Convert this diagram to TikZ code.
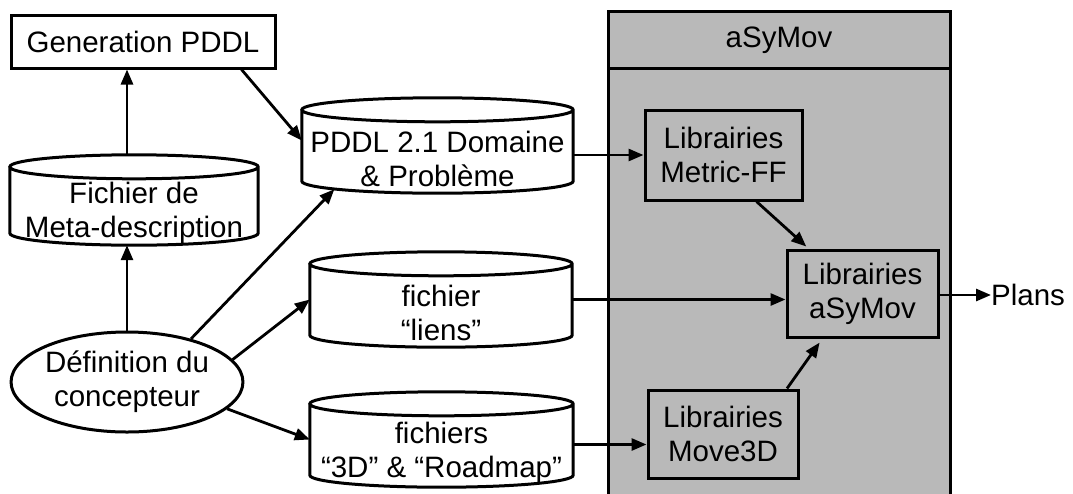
\documentclass[tikz,border=0pt]{standalone}
\usepackage{fontspec}
\setmainfont{Liberation Sans}
\usetikzlibrary{arrows.meta,shapes.geometric,calc}
\definecolor{asygray}{RGB}{185,185,185}
\tikzset{
  x=1pt, y=1pt,
  every node/.style={font=\fontsize{29.5}{34}\selectfont, align=center, inner sep=0pt},
  boxline/.style={line width=3pt},
  rectbox/.style={draw, boxline, rectangle},
  cylbox/.style={rectangle, draw=none},
  cyltxt/.style={yshift=-13pt},
  ellbox/.style={draw, boxline, ellipse},
  conn/.style={line width=2.8pt, -{Triangle[length=15pt,width=12pt]}},
}
\newcommand\drawcylinder[1]{%
  \draw[boxline] let \p1=(#1.north west), \p2=(#1.south east), \n1={(\x2-\x1)/2} in
    (\x1,\y1-12pt) -- (\x1,\y2+12pt)
    arc[start angle=180, end angle=360, x radius=\n1, y radius=12pt]
    -- (\x2,\y1-12pt)
    arc[start angle=0, end angle=180, x radius=\n1, y radius=12pt]
    arc[start angle=180, end angle=360, x radius=\n1, y radius=12pt];}
\begin{document}
\begin{tikzpicture}
\clip (0,0) rectangle (1073,-493);
\fill[white] (0,0) rectangle (1073,-493);
% container
\draw[boxline, fill=asygray] (608,-11) rectangle (950,-510);
\draw[boxline] (608,-68) -- (950,-68);
\node (title) at (779,-40) {aSyMov};
% left nodes
\node[rectbox, minimum width=264pt, minimum height=53pt] (gen) at (143,-41.5) {Generation PDDL};
\node[cylbox, minimum width=248pt, minimum height=90pt, label={[cyltxt]center:Fichier de\\Meta-description}] (meta) at (134,-200) {};
\node[ellbox, minimum width=220pt, minimum height=100pt] (def) at (127,-382) {Définition du\\concepteur};
\node[cylbox, minimum width=271pt, minimum height=95pt, label={[cyltxt]center:PDDL 2.1 Domaine\\\& Problème}] (pddl) at (437.5,-145.5) {};
\node[cylbox, minimum width=262pt, minimum height=95pt, label={[cyltxt]center:fichier\\“liens”}] (liens) at (441,-299.5) {};
\node[cylbox, minimum width=263pt, minimum height=95pt, label={[cyltxt]center:fichiers\\“3D” \& “Roadmap”}] (threed) at (441.5,-439.5) {};
\drawcylinder{meta}
\drawcylinder{pddl}
\drawcylinder{liens}
\drawcylinder{threed}
% inner boxes
\node[rectbox, minimum width=157pt, minimum height=90pt] (metric) at (723.5,-155) {Librairies\\Metric-FF};
\node[rectbox, minimum width=151pt, minimum height=87pt] (asy) at (862.5,-293.5) {Librairies\\aSyMov};
\node[rectbox, minimum width=150pt, minimum height=88pt] (move) at (723,-434) {Librairies\\Move3D};
\node[anchor=west] (plans) at (991,-295) {Plans};
% connectors
\draw[conn] (meta.north -| def.north) -- (gen.south -| def.north);
\draw[conn] (def.north) -- (meta.south -| def.north);
\draw[conn] ([xshift=-35pt]gen.south east) -- ([yshift=5pt]pddl.west);
\draw[conn] (def.34) -- ($(pddl.south west)!0.12!(pddl.south east)+(0,4)$);
\draw[conn] (def.12) -- (liens.west);
\draw[conn] (def.-15) -- (threed.west);
\draw[conn] (metric.west -| pddl.east) -- (metric.west);
\draw[conn] (liens.east) -- (liens.east -| asy.west);
\draw[conn] ([yshift=-5pt]threed.east) -- ([yshift=-5pt]threed.east -| move.west);
\draw[conn, shorten >=3pt] ([xshift=33pt]metric.south) -- ([xshift=-54pt]asy.north);
\draw[conn, shorten >=5pt] ([xshift=64pt]move.north) -- ([xshift=-40pt]asy.south);
\draw[conn] (asy.east |- plans.west) -- (plans.west);
\end{tikzpicture}
\end{document}
